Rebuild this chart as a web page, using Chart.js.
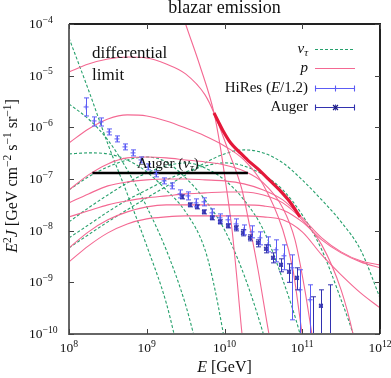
<!DOCTYPE html>
<html>
<head>
<meta charset="utf-8">
<script src="https://cdn.jsdelivr.net/npm/chart.js@4.4.1/dist/chart.umd.min.js"></script>
<style>
  html, body { margin: 0; padding: 0; background: #fff; }
</style>
</head>
<body>
<canvas id="chart" width="391" height="378"></canvas>
<script>
// E [GeV] vs E^2 J [GeV cm^-2 s^-1 sr^-1]
const nuTau1 = [[1e8,5.36e-5],[1.78e8,5.29e-6],[3.16e8,4.77e-7],[5.62e8,5.15e-8],[1e9,5.08e-9],[1.78e9,4.01e-10],[2.68e9,3.2e-11]];
const nuTau2 = [[1e8,2.84e-6],[1.78e8,1.45e-6],[3.16e8,5.70e-7],[5.62e8,1.50e-7],[1e9,2.89e-8],[1.78e9,4.26e-9],[3.16e9,3.67e-10],[4.84e9,3.2e-11]];
const nuTau3 = [[1e8,3.06e-7],[1.78e8,3.20e-7],[3.16e8,3.06e-7],[5.62e8,2.34e-7],[1e9,1.37e-7],[1.78e9,6.15e-8],[3.16e9,2.31e-8],[5.62e9,4.26e-9],[7.55e9,7.16e-10],[1.11e10,3.2e-11]];
const nuTau4 = [[1e8,6.15e-8],[1.78e8,1.10e-7],[3.16e8,1.71e-7],[5.62e8,2.34e-7],[1e9,2.67e-7],[1.78e9,2.14e-7],[3.16e9,1.05e-7],[5.62e9,3.94e-8],[1e10,1.04e-8],[1.78e10,1.40e-9],[3.16e10,1e-10],[3.85e10,3.2e-11]];
const nuTau5 = [[1e8,1.48e-8],[1.78e8,2.76e-8],[3.16e8,4.92e-8],[5.62e8,8.41e-8],[1e9,1.31e-7],[1.78e9,1.79e-7],[3.16e9,2.05e-7],[5.62e9,1.64e-7],[1e10,9.61e-8],[1.78e10,3.94e-8],[3.16e10,1.04e-8],[5.62e10,1.12e-9],[9.36e10,1e-10],[1.08e11,4e-11]];
const nuTau6 = [[1e8,7.26e-9],[1.78e8,1.29e-8],[3.16e8,2.31e-8],[5.62e8,3.94e-8],[1e9,6.15e-8],[1.78e9,9.61e-8],[3.16e9,1.37e-7],[5.62e9,1.79e-7],[1e10,2.05e-7],[1.78e10,1.79e-7],[3.16e10,1.20e-7],[5.62e10,6.15e-8],[1e11,2.02e-8],[1.78e11,4.26e-9],[3.16e11,4.59e-10],[4.5e11,1e-10],[5.53e11,3.2e-11]];
const nuTau7 = [[1e8,4.65e-9],[3.16e8,1.48e-8],[1e9,4.31e-8],[3.16e9,1.20e-7],[5.62e9,2.05e-7],[1e10,3.06e-7],[1.78e10,3.66e-7],[3.16e10,3.20e-7],[5.62e10,2.05e-7],[1e11,9.61e-8],[1.78e11,3.94e-8],[3.16e11,1.48e-8],[5.62e11,4.26e-9],[1e12,5.01e-10]];

const proton1 = [[1e8,1.18e-5],[1.78e8,1.68e-5],[3.16e8,2.10e-5],[5.62e8,2.30e-5],[1e9,2.20e-5],[1.78e9,1.68e-5],[3.16e9,1.08e-5],[5.62e9,4.24e-6],[7.33e9,1.90e-6],[1.11e10,3.66e-7],[1.68e10,6.15e-8],[2.13e10,1.13e-8],[2.70e10,1.75e-9],[3.73e10,1e-10],[4.47e10,2.5e-11]];
const proton2 = [[2.38e9,3.8e-4],[3.16e9,1e-4],[4.84e9,1.54e-5],[7.33e9,1.90e-6],[8.75e9,4.57e-7],[1.045e10,7.69e-8],[1.25e10,1.04e-8],[1.45e10,1.12e-9],[1.68e10,1e-10],[1.84e10,3.2e-11]];
const proton3 = [[1e8,4.99e-7],[1.78e8,9.31e-7],[3.16e8,1.45e-6],[5.62e8,1.74e-6],[1e9,1.66e-6],[1.78e9,1.33e-6],[3.16e9,9.73e-7],[5.62e9,6.82e-7],[1e10,4.37e-7],[1.78e10,2.34e-7],[3.16e10,7.69e-8],[5.62e10,1.04e-8],[7.6e10,1.75e-9],[1e11,1e-10],[1.15e11,3.2e-11]];
const proton4 = [[1e8,6.15e-8],[1.78e8,1.20e-7],[3.16e8,1.96e-7],[5.62e8,2.56e-7],[1e9,2.67e-7],[1.78e9,2.56e-7],[3.16e9,2.34e-7],[5.62e9,2.14e-7],[1e10,1.87e-7],[1.78e10,1.43e-7],[3.16e10,8.41e-8],[5.62e10,2.76e-8],[8.07e10,6.64e-9],[1.08e11,7.16e-10],[1.33e11,1e-10],[1.5e11,3.2e-11]];
const proton5 = [[1e8,3.45e-8],[1.78e8,5.15e-8],[3.16e8,7.36e-8],[5.62e8,8.79e-8],[1e9,9.61e-8],[1.78e9,1e-7],[3.16e9,1e-7],[5.62e9,9.61e-8],[1e10,9.19e-8],[1.78e10,8.04e-8],[3.16e10,6.15e-8],[5.62e10,3.94e-8],[1e11,1.77e-8],[1.78e11,7.26e-9],[3.16e11,3.89e-9],[5.62e11,2.61e-9],[1e12,2.18e-9]];
const proton6 = [[1e8,1.85e-8],[1.78e8,2.42e-8],[3.16e8,3.16e-8],[5.62e8,3.77e-8],[1e9,4.31e-8],[1.78e9,4.71e-8],[3.16e9,5.15e-8],[5.62e9,5.38e-8],[1e10,5.62e-8],[1.78e10,5.62e-8],[3.16e10,4.92e-8],[5.62e10,3.45e-8],[1e11,1.62e-8],[1.78e11,5.31e-9],[3.16e11,7.16e-10],[4.5e11,1e-10],[5.21e11,3.2e-11]];
const proton7 = [[1e8,4.65e-9],[1.78e8,9.48e-9],[3.16e8,1.62e-8],[5.62e8,2.31e-8],[1e9,2.89e-8],[1.78e9,3.16e-8],[3.16e9,3.16e-8],[5.62e9,3.16e-8],[1e10,3.16e-8],[1.78e10,3.16e-8],[3.16e10,3.02e-8],[5.62e10,2.52e-8],[1e11,1.48e-8],[1.78e11,6.64e-9],[3.16e11,3.72e-9],[5.62e11,2.49e-9],[1e12,1.91e-9]];
const proton8 = [[1e8,2.49e-9],[1.78e8,5.08e-9],[3.16e8,9.06e-9],[5.62e8,1.35e-8],[1e9,1.69e-8],[1.78e9,1.85e-8],[3.16e9,1.93e-8],[5.62e9,1.93e-8],[1e10,1.93e-8],[1.78e10,1.93e-8],[3.16e10,1.85e-8],[5.62e10,1.62e-8],[1e11,9.48e-9],[1.78e11,3.40e-9],[3.16e11,1.40e-9],[5.62e11,6.27e-10],[1e12,3.21e-10]];

// thick red curve
const envelope = [[7.33e9,1.90e-6],[8.25e9,1.33e-6],[9.57e9,8.6e-7],[1.21e10,4.9e-7],[1.58e10,3.25e-7],[2.0e10,2.3e-7],[2.62e10,1.62e-7],[3.85e10,9.3e-8],[5.17e10,6.0e-8],[6.95e10,3.6e-8],[9.36e10,1.85e-8]];

// Auger nu_tau limit
const augerNuE = [2e8, 2e10];
const augerNuF = [1.31e-7, 1.31e-7];

// HiRes (E/1.2)
const hiresE  = [1.66e8,2.10e8,2.58e8,3.27e8,4.14e8,5.25e8,6.66e8,8.44e8,1.04e9,1.32e9,1.67e9,2.11e9,2.68e9,3.39e9,4.30e9,5.45e9,6.90e9,8.75e9,1.11e10,1.41e10,1.78e10,2.26e10,2.86e10,3.62e10,4.59e10,5.82e10,7.38e10,9.36e10,1.26e11];
const hiresF  = [2.48e-6,1.33e-6,1.27e-6,8.15e-7,5.97e-7,4.18e-7,3.20e-7,2.34e-7,1.71e-7,1.26e-7,9.19e-8,7.36e-8,5.15e-8,4.71e-8,3.45e-8,3.61e-8,2.21e-8,1.77e-8,1.62e-8,1.35e-8,1.04e-8,9.48e-9,7.26e-9,5.31e-9,4.26e-9,3.26e-9,1.91e-9,7.16e-10,4.59e-10];
const hiresHi = [3.71e-6,1.59e-6,1.52e-6,9.31e-7,6.82e-7,4.77e-7,3.66e-7,2.67e-7,1.96e-7,1.43e-7,1.05e-7,8.41e-8,6.15e-8,5.62e-8,4.12e-8,4.31e-8,2.64e-8,2.11e-8,1.93e-8,1.69e-8,1.29e-8,1.24e-8,9.48e-9,7.59e-9,6.64e-9,5.31e-9,3.40e-9,1.75e-9,8.95e-10];
const hiresLo = [1.66e-6,1.06e-6,1.06e-6,7.13e-7,5.22e-7,3.66e-7,2.80e-7,2.05e-7,1.50e-7,1.10e-7,8.04e-8,6.44e-8,4.31e-8,3.94e-8,2.89e-8,3.02e-8,1.85e-8,1.48e-8,1.35e-8,1.08e-8,8.30e-9,7.26e-9,5.31e-9,3.89e-9,2.49e-9,1.75e-9,1.88e-10,2e-11,2e-11];

// Auger
const augerE  = [2.84e9,3.60e9,4.43e9,5.45e9,6.90e9,8.75e9,1.11e10,1.41e10,1.73e10,2.13e10,2.70e10,3.42e10,4.21e10,5.33e10,6.76e10,8.55e10,1.37e11,1.74e11,2.28e11];
const augerF  = [4.51e-8,3.16e-8,2.89e-8,2.31e-8,1.77e-8,1.48e-8,1.24e-8,1.13e-8,9.06e-9,7.26e-9,5.81e-9,4.45e-9,2.98e-9,2.18e-9,1.60e-9,1.22e-9,null,3.51e-10,null];
const augerHi = [4.92e-8,3.45e-8,3.16e-8,2.52e-8,1.93e-8,1.62e-8,1.35e-8,1.24e-8,1.04e-8,8.30e-9,6.64e-9,5.31e-9,3.72e-9,2.85e-9,2.28e-9,1.91e-9,5.25e-10,7.16e-10,8.95e-10];
const augerLo = [4.12e-8,2.89e-8,2.64e-8,2.11e-8,1.62e-8,1.35e-8,1.13e-8,9.91e-9,7.93e-9,6.35e-9,4.86e-9,3.72e-9,2.38e-9,1.60e-9,1e-9,7.16e-10,2e-11,2e-11,2e-11];

const xTicks = [1e8, 1e9, 1e10, 1e11, 1e12];
const xTickExp = ['8', '9', '10', '11', '12'];
const yTicks = [1e-4, 1e-5, 1e-6, 1e-7, 1e-8, 1e-9, 1e-10];
const yTickExp = ['\u22124', '\u22125', '\u22126', '\u22127', '\u22128', '\u22129', '\u221210'];

const GREEN = 'rgb(38,160,108)';
const PINK = 'rgb(244,104,146)';
const RED = 'rgb(228,24,58)';
const HIRES = 'rgb(92,92,245)';
const AUGER = 'rgb(30,30,120)';
const FAMILY = '"Liberation Serif", "DejaVu Serif", serif';

const pts = arr => arr.map(p => ({ x: p[0], y: p[1] }));
const line = (arr, color, width, dash, order) => ({
  data: pts(arr), showLine: true, borderColor: color, borderWidth: width,
  borderDash: dash, pointRadius: 0, cubicInterpolationMode: 'monotone', order
});

const datasets = [
  { data: hiresE.map((e, i) => ({ x: e, y: hiresF[i] })), pointStyle: 'cross', pointRadius: 2.5,
    borderColor: HIRES, borderWidth: 1, order: 0 },
  { data: augerE.map((e, i) => ({ x: e, y: augerF[i] })), pointStyle: 'rect', pointRadius: 2.2,
    borderColor: 'rgba(60,60,190,0.8)', backgroundColor: 'rgba(110,110,230,0.45)', borderWidth: 1, order: 0 },
  { data: augerE.map((e, i) => ({ x: e, y: augerF[i] })), pointStyle: 'crossRot', pointRadius: 2.6,
    borderColor: AUGER, borderWidth: 1.2, order: 0 },
  { data: augerNuE.map((e, i) => ({ x: e, y: augerNuF[i] })), showLine: true, borderColor: '#000',
    borderWidth: 2.5, pointRadius: 0, order: 1 },
  line(envelope, RED, 3.2, [], 2)
];
[proton1, proton2, proton3, proton4, proton5, proton6, proton7, proton8]
  .forEach(p => datasets.push(line(p, PINK, 1.1, [], 3)));
[nuTau1, nuTau2, nuTau3, nuTau4, nuTau5, nuTau6, nuTau7]
  .forEach(n => datasets.push(line(n, GREEN, 1.1, [3, 2], 4)));

function rich(ctx, parts, x, y, size, align) {
  const segs = parts.map(([t, s = '']) => {
    const small = s.includes('sup') || s.includes('sub');
    const font = (s.includes('it') ? 'italic ' : '') + (small ? size * 0.72 : size) + 'px ' + FAMILY;
    ctx.font = font;
    return { t, font, w: ctx.measureText(t).width,
      dy: s.includes('sup') ? -size * 0.4 : s.includes('sub') ? size * 0.22 : 0 };
  });
  const total = segs.reduce((s, g) => s + g.w, 0);
  let cx = align === 'right' ? x - total : align === 'center' ? x - total / 2 : x;
  segs.forEach(g => { ctx.font = g.font; ctx.fillText(g.t, cx, y + g.dy); cx += g.w; });
}

function errorBars(ctx, xs, ys, E, hi, lo, color) {
  ctx.strokeStyle = color;
  ctx.lineWidth = 1;
  E.forEach((e, i) => {
    const px = Math.round(xs.getPixelForValue(e)) + 0.5;
    const a = ys.getPixelForValue(hi[i]), b = ys.getPixelForValue(lo[i]);
    ctx.beginPath();
    ctx.moveTo(px, a); ctx.lineTo(px, b);
    ctx.moveTo(px - 2.5, a); ctx.lineTo(px + 2.5, a);
    ctx.moveTo(px - 2.5, b); ctx.lineTo(px + 2.5, b);
    ctx.stroke();
  });
}

const decor = {
  id: 'decor',
  afterDatasetsDraw(chart) {
    const { ctx, chartArea: a, scales: { x, y } } = chart;
    ctx.save();
    ctx.beginPath();
    ctx.rect(a.left, a.top, a.right - a.left, a.bottom - a.top);
    ctx.clip();
    errorBars(ctx, x, y, hiresE, hiresHi, hiresLo, HIRES);
    errorBars(ctx, x, y, augerE, augerHi, augerLo, 'rgb(50,50,175)');
    ctx.restore();
  },
  afterDraw(chart) {
    const { ctx, chartArea: a, scales: { x, y } } = chart;
    ctx.save();
    // frame
    ctx.lineWidth = 2;
    ctx.strokeStyle = '#666';
    ctx.beginPath();
    ctx.moveTo(a.left, a.top); ctx.lineTo(a.left, a.bottom); ctx.lineTo(a.right, a.bottom);
    ctx.stroke();
    ctx.strokeStyle = '#222';
    ctx.beginPath();
    ctx.moveTo(a.left, a.top); ctx.lineTo(a.right, a.top); ctx.lineTo(a.right, a.bottom);
    ctx.stroke();
    // inward ticks
    ctx.lineWidth = 1;
    ctx.strokeStyle = '#444';
    ctx.beginPath();
    xTicks.forEach(v => {
      const px = Math.round(x.getPixelForValue(v)) + 0.5;
      ctx.moveTo(px, a.bottom); ctx.lineTo(px, a.bottom - 5);
      ctx.moveTo(px, a.top); ctx.lineTo(px, a.top + 5);
    });
    yTicks.forEach(v => {
      const py = Math.round(y.getPixelForValue(v)) + 0.5;
      ctx.moveTo(a.left, py); ctx.lineTo(a.left + 5, py);
      ctx.moveTo(a.right, py); ctx.lineTo(a.right - 5, py);
    });
    ctx.stroke();

    ctx.fillStyle = '#111';
    ctx.textAlign = 'left';
    ctx.textBaseline = 'alphabetic';
    xTicks.forEach((v, i) => rich(ctx, [['10'], [xTickExp[i], 'sup']], x.getPixelForValue(v), 352, 13.5, 'center'));
    yTicks.forEach((v, i) => rich(ctx, [['10'], [yTickExp[i], 'sup']], 29, y.getPixelForValue(v) + 4, 13.5, 'left'));

    rich(ctx, [['blazar emission']], (a.left + a.right) / 2, 13, 18, 'center');
    rich(ctx, [['E', 'it'], [' [GeV]']], (a.left + a.right) / 2, 372, 16, 'center');
    ctx.save();
    ctx.translate(17, 176);
    ctx.rotate(-Math.PI / 2);
    rich(ctx, [['E', 'it'], ['2', 'sup'], ['J', 'it'], [' [GeV cm'], ['\u22122', 'sup'], [' s'], ['\u22121', 'sup'],
      [' sr'], ['\u22121', 'sup'], [']']], 0, 0, 16, 'center');
    ctx.restore();

    rich(ctx, [['differential']], 92, 58, 17, 'left');
    rich(ctx, [['limit']], 92, 80, 17, 'left');
    rich(ctx, [['Auger ('], ['\u03bd', 'it'], ['\u03c4', 'itsub'], [')']], 137, 168, 15, 'left');

    // legend
    rich(ctx, [['\u03bd', 'it'], ['\u03c4', 'itsub']], 308, 53, 15, 'right');
    rich(ctx, [['p', 'it']], 308, 72, 15, 'right');
    rich(ctx, [['HiRes ('], ['E', 'it'], ['/1.2)']], 308, 92, 15, 'right');
    rich(ctx, [['Auger']], 308, 111, 15, 'right');

    ctx.lineWidth = 1.1;
    ctx.setLineDash([3, 2]);
    ctx.strokeStyle = GREEN;
    ctx.beginPath(); ctx.moveTo(315, 49.5); ctx.lineTo(355, 49.5); ctx.stroke();
    ctx.setLineDash([]);
    ctx.strokeStyle = PINK;
    ctx.beginPath(); ctx.moveTo(315, 68.5); ctx.lineTo(355, 68.5); ctx.stroke();
    [[HIRES, 88.5], ['rgb(50,50,175)', 107.5]].forEach(([c, ly]) => {
      ctx.strokeStyle = c;
      ctx.beginPath();
      ctx.moveTo(315, ly); ctx.lineTo(355, ly);
      [315.5, 335.5, 354.5].forEach(lx => { ctx.moveTo(lx, ly - 3); ctx.lineTo(lx, ly + 3); });
      ctx.stroke();
    });
    ctx.strokeStyle = AUGER;
    ctx.fillStyle = 'rgba(110,110,230,0.45)';
    ctx.fillRect(333.5, 105.5, 4, 4);
    ctx.beginPath();
    ctx.moveTo(333, 105); ctx.lineTo(338, 110); ctx.moveTo(338, 105); ctx.lineTo(333, 110);
    ctx.stroke();
    ctx.restore();
  }
};

new Chart(document.getElementById('chart'), {
  type: 'scatter',
  data: { datasets },
  options: {
    responsive: false,
    animation: false,
    layout: { padding: { left: 69, right: 11, top: 24, bottom: 44 } },
    elements: { line: { capBezierPoints: false } },
    scales: {
      x: { type: 'logarithmic', min: 1e8, max: 1e12, display: false },
      y: { type: 'logarithmic', min: 1e-10, max: 1e-4, display: false }
    },
    plugins: { legend: { display: false }, tooltip: { enabled: false } }
  },
  plugins: [decor]
});
</script>
</body>
</html>
